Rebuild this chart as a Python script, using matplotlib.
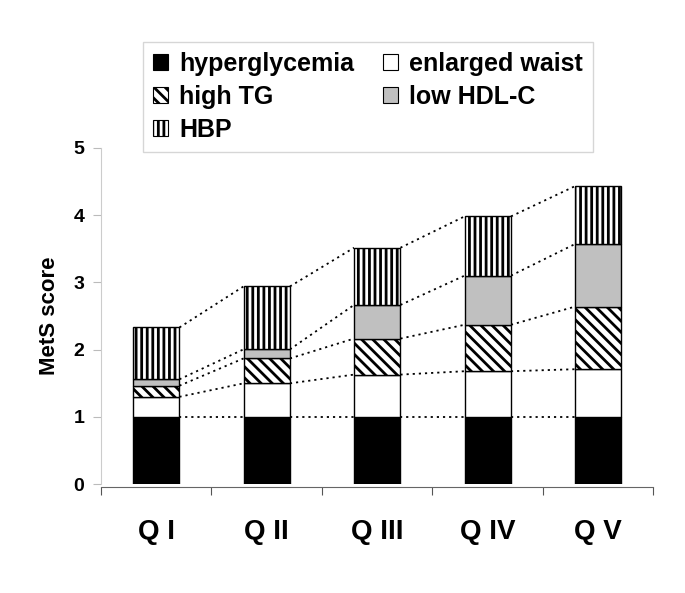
import matplotlib
matplotlib.use("Agg")
import matplotlib.pyplot as plt
import numpy as np
from matplotlib.patches import Patch

categories = ["Q I", "Q II", "Q III", "Q IV", "Q V"]
hyperglycemia = [1.00, 1.00, 1.00, 1.00, 1.00]
enlarged_waist = [0.30, 0.50, 0.63, 0.68, 0.71]
high_tg = [0.165, 0.37, 0.535, 0.69, 0.93]
low_hdl = [0.095, 0.135, 0.50, 0.73, 0.93]
hbp = [0.77, 0.935, 0.85, 0.88, 0.86]
yticks = [0, 1, 2, 3, 4, 5]

plt.rcParams['font.family'] = ['Liberation Sans', 'DejaVu Sans']
plt.rcParams['font.weight'] = 'bold'
plt.rcParams['hatch.linewidth'] = 2.0
plt.rcParams['hatch.color'] = 'black'

fig = plt.figure(figsize=(6.85, 5.93), dpi=100)
ax = fig.add_axes([0.1474, 0.1833, 0.8066, 0.5675])

x = np.arange(len(categories))
w = 0.42
series = [
    ("hyperglycemia", hyperglycemia, dict(facecolor="black", hatch=None)),
    ("enlarged waist", enlarged_waist, dict(facecolor="white", hatch=None)),
    ("high TG", high_tg, dict(facecolor="white", hatch="\\\\\\")),
    ("low HDL-C", low_hdl, dict(facecolor="#c0c0c0", hatch=None)),
    ("HBP", hbp, dict(facecolor="white", hatch="|||")),
]
bottom = np.zeros(len(categories))
levels = []
handles = {}
for name, vals, st in series:
    vals = np.array(vals)
    ax.bar(x, vals, w, bottom=bottom, color=st["facecolor"], edgecolor="black",
           linewidth=1.0, hatch=st["hatch"], zorder=3)
    bottom = bottom + vals
    levels.append(bottom.copy())
    handles[name] = Patch(facecolor=st["facecolor"], edgecolor="black", linewidth=0.8,
                          hatch=st["hatch"], label=name)

for lev in levels:
    for i in range(len(categories) - 1):
        ax.plot([x[i] + w / 2, x[i + 1] - w / 2], [lev[i], lev[i + 1]],
                linestyle=(0, (1.2, 2.2)), color="black", linewidth=1.3, zorder=2)

ax.set_xlim(-0.5, len(categories) - 0.5)
ax.set_ylim(0, 5)
ax.set_yticks(yticks)
ax.set_yticklabels([str(t) for t in yticks], fontsize=14, fontweight='bold')
ax.set_xticks(np.arange(len(categories) + 1) - 0.5)
ax.set_xticklabels([])
ax.set_xticks(x, minor=True)
ax.set_xticklabels(categories, minor=True, fontsize=20, fontweight='bold')
ax.tick_params(axis='x', which='minor', length=0, pad=23, labelsize=20)
ax.tick_params(axis='x', which='major', length=6, color='#555555', direction='out')
ax.tick_params(axis='y', length=6, color='#bbbbbb', direction='out', pad=6)
ax.spines['top'].set_visible(False)
ax.spines['right'].set_visible(False)
ax.spines['left'].set_color('#cccccc')
ax.spines['bottom'].set_color('#666666')
ax.spines['bottom'].set_position(('outward', 2))
ax.set_ylabel("MetS score", fontsize=16, fontweight='bold', labelpad=10)

order = ["hyperglycemia", "high TG", "HBP", "enlarged waist", "low HDL-C"]
leg = fig.legend([handles[n] for n in order], order, ncol=2,
                 loc='upper left', bbox_to_anchor=(0.2088, 0.929), borderaxespad=0,
                 prop=dict(size=18, weight='bold'), frameon=True, fancybox=False,
                 handlelength=0.6, handleheight=0.6, handletextpad=0.45,
                 columnspacing=1.15, labelspacing=0.36, borderpad=0.4)
leg.get_frame().set_edgecolor('#cccccc')
leg.get_frame().set_linewidth(1.0)

fig.savefig("out.png", dpi=100)
